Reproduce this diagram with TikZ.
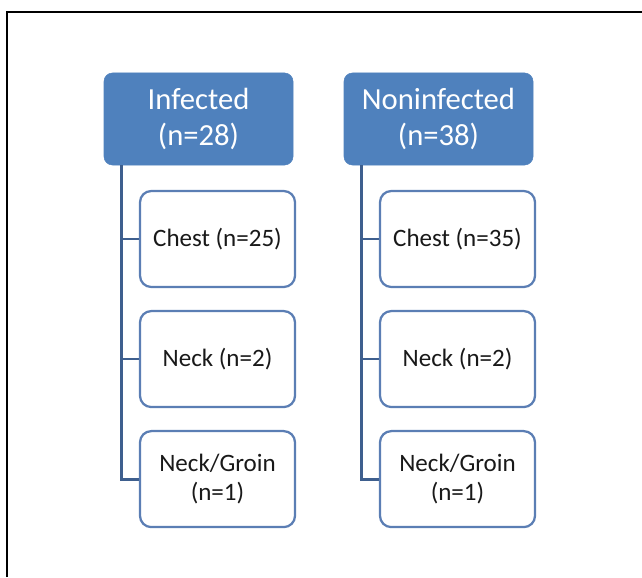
\documentclass[tikz,border=0pt]{standalone}
\usepackage{fontspec}
\setmainfont{Carlito}
\usepackage{tikz}
\usetikzlibrary{positioning, calc}
\definecolor{hdrblue}{HTML}{4F81BD}
\definecolor{boxblue}{HTML}{5B7EB4}
\definecolor{trunkblue}{HTML}{3E5F8E}

\tikzset{
  header/.style={fill=hdrblue, draw=hdrblue, rounded corners=6pt, minimum width=189*0.025cm,
    minimum height=92*0.025cm, align=center, text=white, font=\fontsize{21.8}{25}\selectfont},
  sitebox/.style={fill=white, draw=boxblue, line width=1.6pt, rounded corners=8pt,
    minimum width=155*0.025cm, minimum height=96*0.025cm, align=center,
    text=black!90, font=\fontsize{17.8}{21}\selectfont},
  trunk/.style={draw=trunkblue, line width=2pt}
}

\begin{document}
\begin{tikzpicture}[x=0.025cm, y=-0.025cm]
    \useasboundingbox (0,0) rectangle (642,577);
    % frame
    \draw[line width=1.5pt] (7,577) -- (7,12) -- (642,12);

    % Infected group
    \node[header] (inf) at (198.5,119) {Infected\\(n=28)};
    \node[sitebox] (infChest) at (217.5,239) {Chest (n=25)};
    \node[sitebox, below=21.8*0.025cm of infChest] (infNeck) {Neck (n=2)};
    \node[sitebox, below=21.8*0.025cm of infNeck] (infGroin) {Neck/Groin\\(n=1)};
    \coordinate (infTop) at ([xshift=18*0.025cm]inf.south west);
    \draw[trunk] (infTop) |- (infGroin.west);
    \draw[trunk] (infTop) |- (infNeck.west);
    \draw[trunk] (infTop) |- (infChest.west);

    % Noninfected group
    \node[header] (non) at (438.5,119) {Noninfected\\(n=38)};
    \node[sitebox] (nonChest) at (457.5,239) {Chest (n=35)};
    \node[sitebox, below=21.8*0.025cm of nonChest] (nonNeck) {Neck (n=2)};
    \node[sitebox, below=21.8*0.025cm of nonNeck] (nonGroin) {Neck/Groin\\(n=1)};
    \coordinate (nonTop) at ([xshift=18*0.025cm]non.south west);
    \draw[trunk] (nonTop) |- (nonGroin.west);
    \draw[trunk] (nonTop) |- (nonNeck.west);
    \draw[trunk] (nonTop) |- (nonChest.west);
\end{tikzpicture}
\end{document}
